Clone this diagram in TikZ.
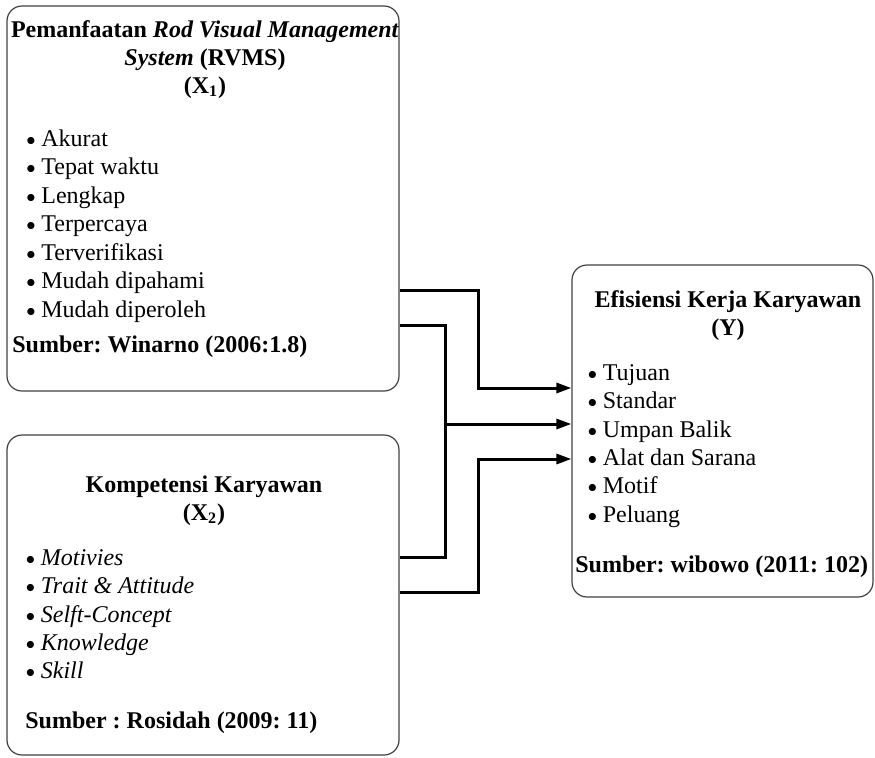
\documentclass[tikz,border=0pt]{standalone}
\usepackage{fontspec}
\setmainfont{Liberation Serif}
\usepackage{tikz}
\usetikzlibrary{arrows.meta}
\frenchspacing
\newcommand{\blt}{\makebox[7.5pt][l]{\fontsize{9}{9}\selectfont\raisebox{0.5pt}{$\bullet$}}}

\begin{document}
\begin{tikzpicture}[line cap=butt,line join=miter,>={Triangle[length=7.5pt,width=5pt]},x=0.5pt,y=-0.5pt,
  panel/.style={draw=black!75,line width=0.6pt,rounded corners=7.5pt,inner sep=0pt},
  txt/.style={inner sep=0pt,font=\fontsize{12}{14.25}\selectfont},
  head/.style={txt,anchor=base,font=\fontsize{12}{14.25}\selectfont\bfseries},
  itm/.style={txt,anchor=base west},
  src/.style={txt,anchor=base west,font=\fontsize{12}{14.25}\selectfont\bfseries},
  link/.style={line width=1.5pt}]
\useasboundingbox (0,0) rectangle (875,757);
\node [panel,minimum width=196pt,minimum height=192.5pt] (rvms) at (203,198.5) {};
\node [panel,minimum width=196pt,minimum height=160pt] (komp) at (203,595) {};
\node [panel,minimum width=150.5pt,minimum height=166pt] (efis) at (722.5,431) {};
\node [head] (rvmsA) at (205,37) {Pemanfaatan \textit{Rod Visual Management}};
\node [head] (rvmsB) at (205,65) {\textit{System} (RVMS)};
\node [head] (rvmsC) at (205,93) {(X\textsubscript{1})};
\node [itm] (a1) at (26,146) {\blt Akurat};
\node [itm] (a2) at (26,174.5) {\blt Tepat waktu};
\node [itm] (a3) at (26,203) {\blt Lengkap};
\node [itm] (a4) at (26,231.5) {\blt Terpercaya};
\node [itm] (a5) at (26,260) {\blt Terverifikasi};
\node [itm] (a6) at (26,288.5) {\blt Mudah dipahami};
\node [itm] (a7) at (26,317) {\blt Mudah diperoleh};
\node [src] (rvmsS) at (12,352) {Sumber: Winarno (2006:1.8)};
\node [head] (kompA) at (204,492) {Kompetensi Karyawan};
\node [head] (kompB) at (204,520) {(X\textsubscript{2})};
\node [itm] (b1) at (25.5,565) {\blt\textit{Motivies}};
\node [itm] (b2) at (25.5,593) {\blt\textit{Trait \& Attitude}};
\node [itm] (b3) at (25.5,622) {\blt\textit{Selft-Concept}};
\node [itm] (b4) at (25.5,650) {\blt\textit{Knowledge}};
\node [itm] (b5) at (25.5,678) {\blt\textit{Skill}};
\node [src] (kompS) at (25,728) {Sumber : Rosidah (2009: 11)};
\node [head] (efisA) at (728,307) {Efisiensi Kerja Karyawan};
\node [head] (efisB) at (728,335) {(Y)};
\node [itm] (c1) at (587.5,380) {\blt Tujuan};
\node [itm] (c2) at (587.5,408) {\blt Standar};
\node [itm] (c3) at (587.5,437) {\blt Umpan Balik};
\node [itm] (c4) at (587.5,465) {\blt Alat dan Sarana};
\node [itm] (c5) at (587.5,493) {\blt Motif};
\node [itm] (c6) at (587.5,522) {\blt Peluang};
\node [src] (efisS) at (575,572) {Sumber: wibowo (2011: 102)};
\coordinate (p1) at (478,290);
\coordinate (p2) at (478,388);
\coordinate (q1) at (445,325);
\coordinate (q2) at (445,557);
\coordinate (q3) at (445,424);
\coordinate (r1) at (478,592);
\coordinate (r2) at (478,459);
\draw [link,->] (rvms.east |- p1) -- (p1) -- (p2) -- (efis.west |- p2);
\draw [link] (rvms.east |- q1) -- (q1) -- (q2) -- (komp.east |- q2);
\draw [link,->] (q3) -- (efis.west |- q3);
\draw [link,->] (komp.east |- r1) -- (r1) -- (r2) -- (efis.west |- r2);
\end{tikzpicture}
\end{document}
